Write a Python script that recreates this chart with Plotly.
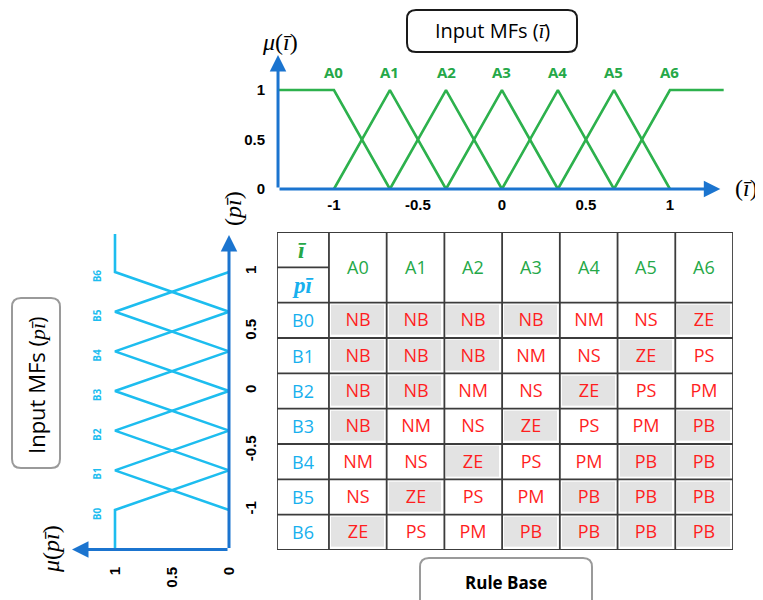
import plotly.graph_objects as go

# the page draws the figure 8 px in from the top-left corner
OFF = 8
W, H = 763 - OFF, 600 - OFF

# ---------------- data ----------------
a_names = ["A0", "A1", "A2", "A3", "A4", "A5", "A6"]
a_centers = [-1.0, -0.667, -0.333, 0.0, 0.333, 0.667, 1.0]
a_x = [
    [-1.333, -1.0, -0.667],
    [-1.0, -0.667, -0.333],
    [-0.667, -0.333, 0.0],
    [-0.333, 0.0, 0.333],
    [0.0, 0.333, 0.667],
    [0.333, 0.667, 1.0],
    [0.667, 1.0, 1.32],
]
a_mu = [[1, 1, 0], [0, 1, 0], [0, 1, 0], [0, 1, 0], [0, 1, 0], [0, 1, 0], [0, 1, 1]]

b_names = ["B0", "B1", "B2", "B3", "B4", "B5", "B6"]
b_centers = [-1.0, -0.667, -0.333, 0.0, 0.333, 0.667, 1.0]
b_p = [
    [-1.333, -1.0, -0.667],
    [-1.0, -0.667, -0.333],
    [-0.667, -0.333, 0.0],
    [-0.333, 0.0, 0.333],
    [0.0, 0.333, 0.667],
    [0.333, 0.667, 1.0],
    [0.667, 1.0, 1.32],
]
b_mu = [[1, 1, 0], [0, 1, 0], [0, 1, 0], [0, 1, 0], [0, 1, 0], [0, 1, 0], [0, 1, 1]]

x_ticks = [-1, -0.5, 0, 0.5, 1]
x_ticktext = ["-1", "-0.5", "0", "0.5", "1"]
mu_ticks = [0, 0.5, 1]
mu_ticktext = ["0", "0.5", "1"]

rules = [
    ["NB", "NB", "NB", "NB", "NM", "NS", "ZE"],
    ["NB", "NB", "NB", "NM", "NS", "ZE", "PS"],
    ["NB", "NB", "NM", "NS", "ZE", "PS", "PM"],
    ["NB", "NM", "NS", "ZE", "PS", "PM", "PB"],
    ["NM", "NS", "ZE", "PS", "PM", "PB", "PB"],
    ["NS", "ZE", "PS", "PM", "PB", "PB", "PB"],
    ["ZE", "PS", "PM", "PB", "PB", "PB", "PB"],
]
shaded = ["NB", "ZE", "PB"]

# ---------------- styles ----------------
GREEN = "#2DB14D"
GREEN_T = "#25A848"
AXBLUE = "#1B74CF"
LBLUE = "#1DBDEF"
TBLUE = "#17B0EE"
RED = "#FF1E1E"
GRAY = "#E3E3E3"
GRID = "#3C3C3C"
SANS = "Open Sans"
SERIF = "Liberation Serif"


def px(x):
    return (x - OFF) / W


def py(y):
    return 1 - (y - OFF) / H


fig = go.Figure()

# top MFs
for name, xs, ys in zip(a_names, a_x, a_mu):
    fig.add_trace(go.Scatter(x=xs, y=ys, mode="lines", line=dict(color=GREEN, width=2.6),
                             xaxis="x", yaxis="y", hoverinfo="skip", showlegend=False))
# left MFs (rotated: x=mu, y=p)
for name, ps, ms in zip(b_names, b_p, b_mu):
    fig.add_trace(go.Scatter(x=ms, y=ps, mode="lines", line=dict(color=LBLUE, width=2.6),
                             xaxis="x2", yaxis="y2", hoverinfo="skip", showlegend=False))

# rule table heatmap
z = [[1 if r in shaded else 0 for r in row] for row in rules]
fig.add_trace(go.Heatmap(
    x=list(range(7)), y=list(range(7)), z=z, text=rules, texttemplate="%{text}",
    textfont=dict(family=SANS, size=18, color=RED),
    colorscale=[[0, "white"], [1, GRAY]], zmin=0, zmax=1, showscale=False,
    xgap=5, ygap=5, xaxis="x3", yaxis="y3", hoverinfo="skip"))

tickfont = dict(family="Liberation Sans", size=15, color="black", weight="bold")

layout = dict(
    width=W, height=H, margin=dict(l=0, r=0, t=0, b=0, autoexpand=False),
    paper_bgcolor="white", plot_bgcolor="rgba(0,0,0,0)", showlegend=False,
    xaxis=dict(domain=[px(276.0), px(730.4)], range=[-1.345, 1.36], anchor="y",
               showgrid=False, zeroline=False, showline=False,
               tickvals=x_ticks, ticktext=x_ticktext, ticks="", tickfont=tickfont),
    yaxis=dict(domain=[py(193.95), py(53.4)], range=[-0.05, 1.37], anchor="x",
               showgrid=False, zeroline=False, showline=False,
               tickvals=mu_ticks, ticktext=mu_ticktext, ticks="outside", ticklen=7,
               tickcolor="rgba(0,0,0,0)", tickfont=tickfont),
    xaxis2=dict(domain=[px(69.4), px(234.7)], range=[1.4, -0.05], anchor="y2",
                showgrid=False, zeroline=False, showline=False,
                tickvals=mu_ticks, ticktext=mu_ticktext, ticks="outside", ticklen=7,
                tickcolor="rgba(0,0,0,0)", tickangle=-90, tickfont=tickfont),
    yaxis2=dict(domain=[py(552.8), py(231.0)], range=[-1.36, 1.345], anchor="x2", side="right",
                showgrid=False, zeroline=False, showline=False,
                tickvals=x_ticks, ticktext=x_ticktext, ticks="outside", ticklen=2,
                tickcolor="rgba(0,0,0,0)", tickangle=-90, tickfont=tickfont),
    xaxis3=dict(domain=[px(277), px(733)], range=[-1.4, 6.5], anchor="y3",
                visible=False, fixedrange=True),
    yaxis3=dict(domain=[py(550), py(232)], range=[6.5, -2.5], anchor="x3",
                visible=False, fixedrange=True),
)
fig.update_layout(**layout)

annotations = []
shapes = []


def arrow(x, y, ax, ay, xr, yr):
    return dict(x=x, y=y, ax=ax, ay=ay, xref=xr, yref=yr, axref=xr, ayref=yr,
                text="", showarrow=True, arrowhead=2, arrowsize=1.1, arrowwidth=3,
                arrowcolor=AXBLUE)


# axis arrows
annotations.append(arrow(1.30, 0, -1.333, 0, "x", "y"))
annotations.append(arrow(-1.333, 1.354, -1.333, 0, "x", "y"))
annotations.append(arrow(1.377, -1.333, 0, -1.333, "x2", "y2"))
annotations.append(arrow(0, 1.311, 0, -1.333, "x2", "y2"))


def label(x, y, text, xr, yr, font, angle=0):
    return dict(x=x, y=y, xref=xr, yref=yr, text=text, showarrow=False, font=font,
                textangle=angle, xanchor="center", yanchor="middle")


# MF labels
for name, c in zip(a_names, a_centers):
    annotations.append(label(c, 1.18, name, "x", "y",
                             dict(family=SANS, size=15, color=GREEN_T, weight="bold")))
for name, c in zip(b_names, b_centers):
    annotations.append(label(1.16, c - 0.03, name, "x2", "y2",
                             dict(family=SANS, size=10, color=LBLUE, weight="bold"), -90))

# math labels
mfont = dict(family=SERIF, size=24, color="black")
annotations.append(label(px(280), py(42), "<i>μ</i>(<i>ī</i>)", "paper", "paper", mfont))
annotations.append(label(px(746), py(188), "(<i>ī</i>)", "paper", "paper", mfont))
annotations.append(label(px(233), py(209), "(<i>pī</i>)", "paper", "paper", mfont, -90))
annotations.append(label(px(51), py(549), "<i>μ</i>(<i>pī</i>)", "paper", "paper", mfont, -90))


def rbox(x0, y0, x1, y1, r, color, width):
    rx, ry = r / W, r / H
    X0, X1 = px(x0), px(x1)
    Y0, Y1 = py(y0), py(y1)  # Y0 top, Y1 bottom in paper
    path = (f"M {X0+rx},{Y0} L {X1-rx},{Y0} Q {X1},{Y0} {X1},{Y0-ry} "
            f"L {X1},{Y1+ry} Q {X1},{Y1} {X1-rx},{Y1} L {X0+rx},{Y1} Q {X0},{Y1} {X0},{Y1+ry} "
            f"L {X0},{Y0-ry} Q {X0},{Y0} {X0+rx},{Y0} Z")
    return dict(type="path", path=path, xref="paper", yref="paper",
                line=dict(color=color, width=width), fillcolor="rgba(0,0,0,0)", layer="above")


shapes.append(rbox(407, 10, 577, 52, 9, "#1a1a1a", 2))
shapes.append(rbox(12, 298, 60, 468, 9, "#9a9a9a", 2))
shapes.append(rbox(420, 558, 592, 612, 9, "#9a9a9a", 2))

annotations.append(label(px(492), py(31),
                         "Input MFs (<span style='font-family:Liberation Serif'><i>ī</i></span>)",
                         "paper", "paper", dict(family=SANS, size=20, color="black")))
annotations.append(label(px(36), py(385),
                         "Input MFs (<span style='font-family:Liberation Serif'><i>pī</i></span>)",
                         "paper", "paper", dict(family=SANS, size=22, color="black"), -90))
annotations.append(label(px(506), py(582), "Rule Base", "paper", "paper",
                         dict(family=SANS, size=17, color="black", weight="bold")))

# table grid
xl, xr, yt, yb = -1.4, 6.5, -2.5, 6.5
vlines = [xl, -0.5] + [c + 0.5 for c in range(7)]
hlines = [yt, -0.5] + [r + 0.5 for r in range(7)]
for v in vlines:
    shapes.append(dict(type="line", xref="x3", yref="y3", x0=v, x1=v, y0=yt, y1=yb,
                       line=dict(color=GRID, width=1.8)))
for h in hlines:
    shapes.append(dict(type="line", xref="x3", yref="y3", x0=xl, x1=xr, y0=h, y1=h,
                       line=dict(color=GRID, width=1.8)))
shapes.append(dict(type="line", xref="x3", yref="y3", x0=xl, x1=-0.5, y0=-1.5, y1=-1.5,
                   line=dict(color=GRID, width=1.8)))

# table headers
for c, name in enumerate(a_names):
    annotations.append(label(c, -1.5, name, "x3", "y3", dict(family=SANS, size=18, color=GREEN_T)))
for r, name in enumerate(b_names):
    annotations.append(label(-0.95, r, name, "x3", "y3", dict(family=SANS, size=18, color=TBLUE)))
annotations.append(label(-0.95, -2.0, "<b><i>ī</i></b>", "x3", "y3",
                         dict(family=SERIF, size=24, color=GREEN_T)))
annotations.append(label(-0.95, -1.0, "<b><i>pī</i></b>", "x3", "y3",
                         dict(family=SERIF, size=23, color=TBLUE)))

fig.update_layout(annotations=annotations, shapes=shapes)
fig.write_html("out.html")
